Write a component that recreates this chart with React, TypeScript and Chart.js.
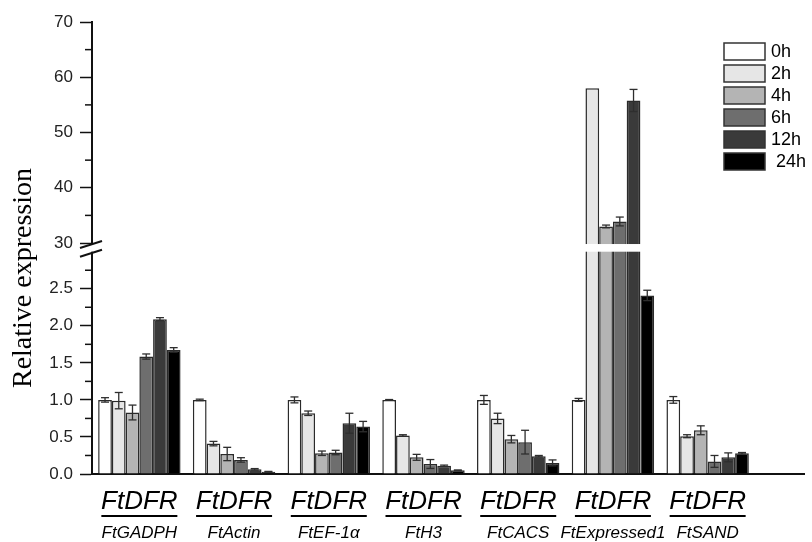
import React, { useEffect, useRef } from 'react';
import { Chart, registerables } from 'chart.js';
Chart.register(...registerables);

const CATEGORIES = ['FtGADPH', 'FtActin', 'FtEF-1α', 'FtH3', 'FtCACS', 'FtExpressed1', 'FtSAND'];
const TARGET_LABEL = 'FtDFR';
const TIMES = ['0h', '2h', '4h', '6h', '12h', '24h'];
const LEGEND_LABELS = ['0h', '2h', '4h', '6h', '12h', ' 24h'];
const Y_TITLE = 'Relative expression';

const V_0H = [1.0, 1.0, 1.0, 1.0, 1.0, 1.0, 1.0];
const V_2H = [0.99, 0.41, 0.82, 0.52, 0.75, 58.0, 0.51];
const V_4H = [0.83, 0.27, 0.28, 0.225, 0.47, 33.0, 0.59];
const V_6H = [1.585, 0.19, 0.29, 0.135, 0.43, 33.9, 0.17];
const V_12H = [2.09, 0.063, 0.685, 0.11, 0.24, 55.8, 0.225];
const V_24H = [1.675, 0.03, 0.64, 0.05, 0.15, 2.41, 0.28];

const E_0H = [0.03, 0.01, 0.04, 0.005, 0.06, 0.02, 0.045];
const E_2H = [0.11, 0.03, 0.03, 0.01, 0.07, 0, 0.02];
const E_4H = [0.1, 0.09, 0.03, 0.04, 0.05, 0.25, 0.06];
const E_6H = [0.035, 0.03, 0.03, 0.06, 0.16, 0.8, 0.08];
const E_12H = [0.02, 0.01, 0.135, 0.01, 0.01, 2.0, 0.06];
const E_24H = [0.03, 0.005, 0.07, 0.005, 0.04, 0.07, 0.01];

const LOWER_TICKS = [0, 0.5, 1.0, 1.5, 2.0, 2.5];
const LOWER_MINOR = [0.25, 0.75, 1.25, 1.75, 2.25, 2.75];
const UPPER_TICKS = [30, 40, 50, 60, 70];
const UPPER_MINOR = [35, 45, 55, 65];

const LOW_MIN = 0;
const LOW_BREAK = 3;
const LOW_MAX = 3.05;
const UP_BREAK = 30;
const UP_MIN = 29.1;
const UP_MAX = 70;

const SERIES = [V_0H, V_2H, V_4H, V_6H, V_12H, V_24H];
const ERRS = [E_0H, E_2H, E_4H, E_6H, E_12H, E_24H];

const COLORS = ['#ffffff', '#e6e6e6', '#b4b4b4', '#6e6e6e', '#3a3a3a', '#000000'];
const BORDER = '#2a2a2a';
const AXIS = '#111111';
const SANS = '"Liberation Sans", Arial, sans-serif';
const SERIF = '"Liberation Serif", "Times New Roman", serif';

function line(ctx: CanvasRenderingContext2D, x1: number, y1: number, x2: number, y2: number) {
  ctx.beginPath();
  ctx.moveTo(x1, y1);
  ctx.lineTo(x2, y2);
  ctx.stroke();
}

const overlay = {
  id: 'overlay',
  afterDatasetsDraw(chart: any) {
    const { ctx, chartArea } = chart;
    const yLow = chart.scales.yLow;
    const yUp = chart.scales.yUp;
    const ax = chartArea.left;
    ctx.save();
    // minor ticks
    ctx.strokeStyle = AXIS;
    ctx.lineWidth = 1.5;
    LOWER_MINOR.forEach((v) => {
      const py = yLow.getPixelForValue(v);
      line(ctx, ax - 7, py, ax, py);
    });
    UPPER_MINOR.forEach((v) => {
      const py = yUp.getPixelForValue(v);
      line(ctx, ax - 7, py, ax, py);
    });
    // error bars
    ctx.strokeStyle = '#2e2e2e';
    ctx.lineWidth = 1.3;
    chart.data.datasets.forEach((ds: any, di: number) => {
      const meta = chart.getDatasetMeta(di);
      const k = ds.series;
      const low = ds.yAxisID === 'yLow';
      const scale = low ? yLow : yUp;
      SERIES[k].forEach((v, i) => {
        const e = ERRS[k][i];
        if (!e) return;
        if (low && v > LOW_BREAK) return;
        if (!low && v < UP_BREAK) return;
        const el = meta.data[i];
        if (!el) return;
        const px = el.x;
        const yt = scale.getPixelForValue(v + e);
        const yb = scale.getPixelForValue(v - e);
        line(ctx, px, yt, px, yb);
        line(ctx, px - 4, yt, px + 4, yt);
        line(ctx, px - 4, yb, px + 4, yb);
      });
    });
    // axis break
    const yA = yUp.getPixelForValue(UP_BREAK) + 1;
    const yB = yLow.getPixelForValue(LOW_BREAK);
    ctx.fillStyle = '#ffffff';
    ctx.fillRect(ax - 4, yA, chartArea.right - ax + 4, yB - yA);
    ctx.strokeStyle = AXIS;
    ctx.lineWidth = 2;
    line(ctx, ax - 12, yA + 4, ax + 10, yA - 3);
    line(ctx, ax - 12, yB + 5, ax + 10, yB - 2);
    // x-axis extension
    line(ctx, chartArea.right - 2, chartArea.bottom, 805, chartArea.bottom);
    ctx.restore();
  },
  afterDraw(chart: any) {
    const { ctx } = chart;
    const x = chart.scales.x;
    ctx.save();
    // category labels
    ctx.fillStyle = '#000000';
    ctx.textAlign = 'center';
    ctx.textBaseline = 'middle';
    CATEGORIES.forEach((c, i) => {
      const px = x.getPixelForValue(i);
      ctx.font = `italic 26px ${SANS}`;
      ctx.fillText(TARGET_LABEL, px, 502);
      ctx.strokeStyle = '#000000';
      ctx.lineWidth = 2;
      line(ctx, px - 38, 516, px + 38, 516);
      ctx.font = `italic 17px ${SANS}`;
      ctx.fillText(c, px, 533);
    });
    // y title
    ctx.save();
    ctx.translate(24, 278);
    ctx.rotate(-Math.PI / 2);
    ctx.font = `28px ${SERIF}`;
    ctx.fillStyle = '#000000';
    ctx.fillText(Y_TITLE, 0, 0);
    ctx.restore();
    // legend
    ctx.textAlign = 'left';
    ctx.font = `18px ${SANS}`;
    LEGEND_LABELS.forEach((lab, k) => {
      const top = 43 + k * 22;
      ctx.fillStyle = COLORS[k];
      ctx.fillRect(724, top, 41, 17);
      ctx.strokeStyle = '#333333';
      ctx.lineWidth = 1.5;
      ctx.strokeRect(724, top, 41, 17);
      ctx.fillStyle = '#000000';
      ctx.fillText(lab, 771, top + 9);
    });
    ctx.restore();
  },
};

export default function App() {
  const ref = useRef<HTMLCanvasElement>(null);
  useEffect(() => {
    document.body.style.margin = '0';
    const datasets: any[] = [];
    TIMES.forEach((t, k) => {
      datasets.push({
        label: t,
        data: SERIES[k].map((v) => Math.min(v, LOW_MAX)),
        yAxisID: 'yLow',
        stack: 's' + k,
        series: k,
        backgroundColor: COLORS[k],
        borderColor: BORDER,
        borderWidth: 1.5,
      });
    });
    TIMES.forEach((t, k) => {
      datasets.push({
        label: t,
        data: SERIES[k].map((v) => (v >= UP_BREAK ? v : null)),
        yAxisID: 'yUp',
        stack: 's' + k,
        series: k,
        backgroundColor: COLORS[k],
        borderColor: BORDER,
        borderWidth: 1.5,
      });
    });
    const tickFont = { family: SANS, size: 17 };
    const chart = new Chart(ref.current!, {
      type: 'bar',
      data: { labels: CATEGORIES, datasets },
      plugins: [overlay],
      options: {
        responsive: false,
        animation: false,
        devicePixelRatio: 1,
        layout: { padding: { left: 0, right: 57, top: 22, bottom: 0 } },
        datasets: { bar: { categoryPercentage: 0.87, barPercentage: 1.0 } },
        plugins: { legend: { display: false }, tooltip: { enabled: false }, title: { display: false } },
        scales: {
          x: {
            grid: { display: false },
            ticks: { display: false },
            border: { display: true, color: AXIS, width: 2 },
            afterFit: (s: any) => { s.height = 68; },
          },
          yLow: {
            type: 'linear',
            position: 'left',
            stack: 'ys',
            stackWeight: 1,
            stacked: false,
            min: LOW_MIN,
            max: LOW_MAX,
            bounds: 'data',
            afterBuildTicks: (s: any) => { s.ticks = LOWER_TICKS.map((v) => ({ value: v })); },
            ticks: { font: tickFont, color: '#222', padding: 7, callback: (v: any) => Number(v).toFixed(1) },
            grid: { drawOnChartArea: false, drawTicks: true, tickLength: 12, tickWidth: 1.5, tickColor: AXIS },
            border: { display: true, color: AXIS, width: 2 },
            afterFit: (s: any) => { s.width = 92; },
          },
          yUp: {
            type: 'linear',
            position: 'left',
            stack: 'ys',
            stackWeight: 1,
            stacked: false,
            min: UP_MIN,
            max: UP_MAX,
            bounds: 'data',
            afterBuildTicks: (s: any) => { s.ticks = UPPER_TICKS.map((v) => ({ value: v })); },
            ticks: { font: tickFont, color: '#222', padding: 7, callback: (v: any) => String(v) },
            grid: { drawOnChartArea: false, drawTicks: true, tickLength: 12, tickWidth: 1.5, tickColor: AXIS },
            border: { display: true, color: AXIS, width: 2 },
            afterFit: (s: any) => { s.width = 92; },
          },
        },
      } as any,
    });
    return () => chart.destroy();
  }, []);
  return (
    <div style={{ width: 812, height: 542, background: '#fff' }}>
      <canvas ref={ref} width={812} height={542} />
    </div>
  );
}
